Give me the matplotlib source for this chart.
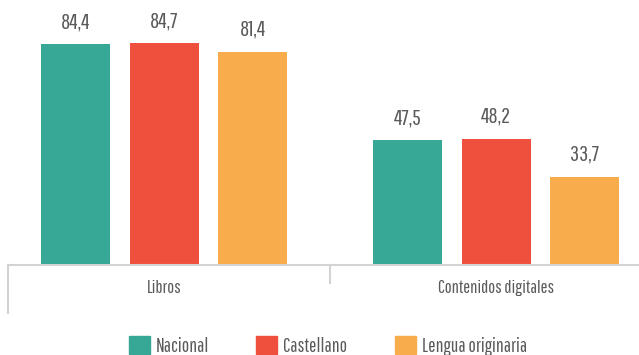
import matplotlib
matplotlib.use("Agg")
import matplotlib.pyplot as plt
from matplotlib.patches import Patch
import numpy as np

categories = ["Libros", "Contenidos digitales"]
series = ["Nacional", "Castellano", "Lengua originaria"]
nacional = [84.4, 47.5]
castellano = [84.7, 48.2]
lengua_originaria = [81.4, 33.7]
values = [nacional, castellano, lengua_originaria]
colors = ["#37A796", "#EF4F3D", "#F9AC4B"]

FONT = ["Pathway Gothic One", "DejaVu Sans"]
TEXT = "#5a5a5a"
GRID = "#d3d3d3"

fig = plt.figure(figsize=(6.39, 3.55), dpi=100)
ax = fig.add_axes([8 / 639, 1 - 265 / 355, 1 - 8 / 639, 265 / 355])

x = np.arange(len(categories))
width = 0.208
step = 0.267
for i, (name, vals, col) in enumerate(zip(series, values, colors)):
    pos = x + (i - 1) * step
    bars = ax.bar(pos, vals, width=width, color=col, label=name, zorder=2)
    for b, v in zip(bars, vals):
        ax.annotate(f"{v:.1f}".replace(".", ","), (b.get_x() + b.get_width() / 2, v),
                    xytext=(0, 8.5), textcoords="offset points", ha="center", va="bottom",
                    fontsize=16, color=TEXT, family=FONT)

ax.set_xlim(-0.47, 1.43)
ax.set_ylim(0, 101.1)
for s in ["top", "right", "left"]:
    ax.spines[s].set_visible(False)
ax.spines["bottom"].set_color(GRID)
ax.spines["bottom"].set_linewidth(1.5)
ax.set_yticks([])
ax.set_xticks([])

# group separators below the baseline
trans = ax.get_xaxis_transform()
ax.plot([-0.47, -0.47], [0, -48 / 265], color=GRID, lw=1.5, transform=trans, clip_on=False)
ax.plot([0.5, 0.5], [0, -18 / 265], color=GRID, lw=1.5, transform=trans, clip_on=False)

for xi, cat in zip(x, categories):
    ax.text(xi, -23 / 265, cat, transform=trans, ha="center", va="center",
            fontsize=13.2, color=TEXT, family=FONT)

handles = [Patch(color=c, label=n) for n, c in zip(series, colors)]
fig.legend(handles=handles, loc="center", bbox_to_anchor=(0.513, 1 - 346 / 355), ncol=3,
           frameon=False, handlelength=1.08, handleheight=1.0, handletextpad=0.3,
           columnspacing=2.45, prop={"family": FONT, "size": 14}, labelcolor=TEXT)

fig.savefig("out.png", dpi=100)
